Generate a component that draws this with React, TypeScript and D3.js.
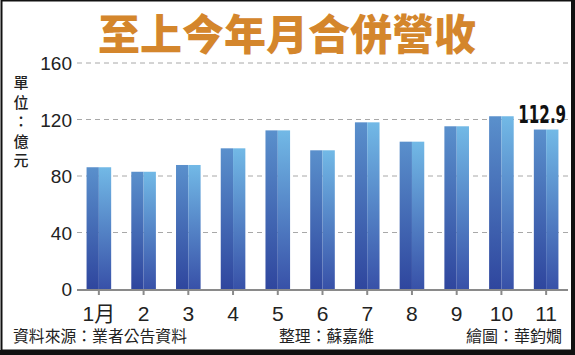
import { scaleLinear, scaleBand } from "d3";

const MONTHS = ["1月", "2", "3", "4", "5", "6", "7", "8", "9", "10", "11"];
const REVENUE = [86.2, 83.0, 87.8, 99.6, 112.3, 98.2, 118.0, 104.3, 115.2, 122.3, 112.9];
const Y_TICKS = [0, 40, 80, 120, 160];
const UNIT_CHARS = ["單", "位", "：", "億", "元"];
const TITLE = "至上今年月合併營收";
const LAST_LABEL = "112.9";
const SOURCE = "資料來源：業者公告資料";
const EDITOR = "整理：蘇嘉維";
const ARTIST = "繪圖：華鈞嫺";

const W = 575, H = 355;
const CJK = "'Noto Sans CJK TC', 'Noto Sans CJK SC', sans-serif";
const NUM = "'Liberation Sans', Arial, 'Noto Sans CJK TC', sans-serif";

export default function App() {
  const x = scaleBand<string>().domain(MONTHS).range([76.5, 568.5]).paddingInner(0.45).paddingOuter(0.225);
  const y = scaleLinear().domain([0, 160]).range([289, 63]);
  const bw = x.bandwidth();
  const lastX = (x(MONTHS[MONTHS.length - 1]) ?? 0) + bw / 2;

  return (
    <svg width={W} height={H} viewBox={`0 0 ${W} ${H}`}
      style={{ position: "absolute", left: 0, top: 0, background: "#fff" }}>
      <defs>
        <linearGradient id="barL" x1="0" y1="0" x2="0" y2="1">
          <stop offset="0" stopColor="#5a90cc" />
          <stop offset="1" stopColor="#2f469e" />
        </linearGradient>
        <linearGradient id="barR" x1="0" y1="0" x2="0" y2="1">
          <stop offset="0" stopColor="#72b9e6" />
          <stop offset="1" stopColor="#3851a8" />
        </linearGradient>
      </defs>

      <text x={287} y={50} textAnchor="middle" fontFamily={CJK} fontWeight={900}
        fontSize={42} fill="#d4862c">{TITLE}</text>

      {Y_TICKS.filter(t => t > 0).map(t => (
        <line key={t} x1={77} x2={568} y1={y(t)} y2={y(t)} stroke="#a8a8a8"
          strokeWidth={1} strokeDasharray="5,4" />
      ))}

      {REVENUE.map((v, i) => {
        const bx = x(MONTHS[i]) ?? 0;
        return (
          <g key={MONTHS[i]}>
            <rect x={bx} y={y(v)} width={bw / 2} height={y(0) - y(v)} fill="url(#barL)" />
            <rect x={bx + bw / 2} y={y(v)} width={bw / 2} height={y(0) - y(v)} fill="url(#barR)" />
          </g>
        );
      })}

      <line x1={77} x2={568} y1={y(0) + 1} y2={y(0) + 1} stroke="#8a8a8a" strokeWidth={2} />
      {MONTHS.map(m => (
        <line key={m} x1={(x(m) ?? 0) + bw / 2} x2={(x(m) ?? 0) + bw / 2}
          y1={y(0)} y2={y(0) + 6} stroke="#8a8a8a" strokeWidth={2} />
      ))}

      {Y_TICKS.map(t => (
        <text key={t} x={72} y={y(t) + 7} textAnchor="end" fontFamily={NUM}
          fontSize={19} fill="#222">{t}</text>
      ))}

      {MONTHS.map(m => (
        <text key={m} x={(x(m) ?? 0) + bw / 2} y={321}
          textAnchor="middle" fontFamily={NUM} fontSize={21} fill="#222">{m}</text>
      ))}

      {UNIT_CHARS.map((c, i) => (
        <text key={i} x={21} y={88 + i * 19.5} textAnchor="middle" fontFamily={CJK}
          fontWeight={500} fontSize={15} fill="#222">{c}</text>
      ))}

      <g transform={`translate(${lastX + 20},123) scale(0.7,1)`}>
        <text x={0} y={0} textAnchor="end"
          fontFamily="'DejaVu Sans Condensed', 'DejaVu Sans', sans-serif"
          fontWeight={700} fontSize={24} fill="#111">{LAST_LABEL}</text>
      </g>

      <text x={13} y={342} fontFamily={CJK} fontSize={16} fill="#222"
        textLength={174} lengthAdjust="spacingAndGlyphs">{SOURCE}</text>
      <text x={279} y={342} fontFamily={CJK} fontSize={16} fill="#222"
        textLength={95} lengthAdjust="spacingAndGlyphs">{EDITOR}</text>
      <text x={466} y={342} fontFamily={CJK} fontSize={16} fill="#222"
        textLength={96} lengthAdjust="spacingAndGlyphs">{ARTIST}</text>

      <rect x={1.5} y={0.5} width={W - 4} height={H - 5} fill="none" stroke="#111" strokeWidth={2} />
      <rect x={0} y={350} width={W} height={5} fill="#111" />
      <rect x={571} y={0} width={4} height={H} fill="#111" />
    </svg>
  );
}
